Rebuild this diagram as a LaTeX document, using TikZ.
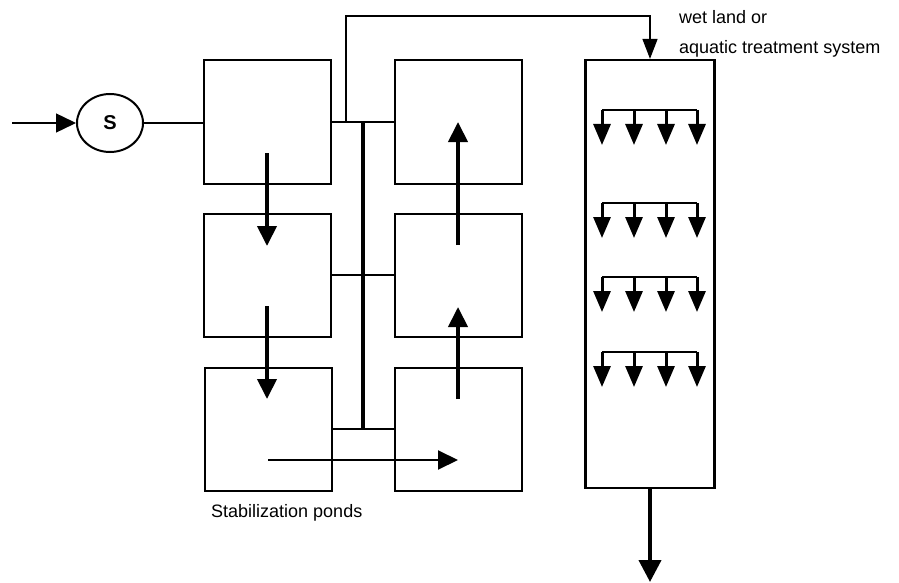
\documentclass[tikz,border=0pt]{standalone}
\usepackage{fontspec}
\setmainfont{Liberation Sans}
\usetikzlibrary{arrows.meta,shapes.geometric}

\begin{document}
\begin{tikzpicture}[x=1pt,y=-1pt,>={Triangle[length=20pt,width=19pt]},
  pond/.style={draw,line width=2pt,minimum width=127pt,minimum height=123pt,inner sep=0pt},
  pipe/.style={line width=1.4pt},
  flow/.style={->,line width=4pt},
  spray/.style={-{Triangle[length=21pt,width=17pt]},line width=3pt},
  lbl/.style={inner sep=0pt,anchor=base west,font=\fontsize{18}{21}\selectfont}]
\useasboundingbox (0,0) rectangle (899,583);

\node[pond] (P1) at (267,122) {};
\node[pond] (P2) at (267,275) {};
\node[pond] (P3) at (268,429) {};
\node[pond] (P4) at (458,122) {};
\node[pond] (P5) at (458,275) {};
\node[pond] (P6) at (458,429) {};
\node[draw,line width=2.2pt,minimum width=129pt,minimum height=428pt] (W) at (650,274) {};
\node[draw,ellipse,line width=2pt,minimum width=66pt,minimum height=58pt,inner sep=0pt,
  font=\fontsize{20}{22}\selectfont\bfseries] (S) at (110,123) {S};

\node[lbl] (wl) at (679,24) {wet land or};
\node[lbl] (ats) at (679,54) {aquatic treatment system};
\node[lbl] (sp) at (211,517) {Stabilization ponds};

\coordinate (in) at (12,123);
\coordinate (out) at (650,582);
\coordinate (ja) at (346,122);
\coordinate (jb) at (650,16);
\coordinate (va) at (363,122);
\coordinate (vb) at (363,429);

% inlet, bypass and headers
\draw[pipe,->] (in) -- (S);
\draw[pipe] (S.east) -- (S.east -| P1.west);
\draw[pipe] (P1.east) -- (P4.west);
\draw[pipe,-{Triangle[length=20pt,width=15pt]}] (ja) |- (jb) -- (W.north);
\draw[line width=3.3pt] (va) -- (vb);
\draw[pipe] (P2.east) -- (P5.west);
\draw[pipe] (P3.east) -- (P6.west);

% flow through the ponds
\coordinate (a1) at (267,153); \coordinate (a2) at (267,246);
\coordinate (b1) at (267,306); \coordinate (b2) at (267,399);
\coordinate (c1) at (268,460); \coordinate (c2) at (458,460);
\coordinate (d1) at (458,399); \coordinate (d2) at (458,307);
\coordinate (e1) at (458,245); \coordinate (e2) at (458,122);
\draw[flow] (a1) -- (a2);
\draw[flow] (b1) -- (b2);
\draw[->,line width=2pt] (c1) -- (c2);
\draw[flow] (d1) -- (d2);
\draw[flow] (e1) -- (e2);

% distributors in the wet land
\foreach \y in {110,203,277,352} {
  \draw[line width=2pt] (602,\y) -- (697,\y);
  \foreach \x in {602,634,666,697}
    \draw[spray] (\x,\y) -- (\x,\y+35);
}

\draw[flow,-{Triangle[length=22pt,width=22pt]}] (W.south) -- (out);
\end{tikzpicture}
\end{document}
